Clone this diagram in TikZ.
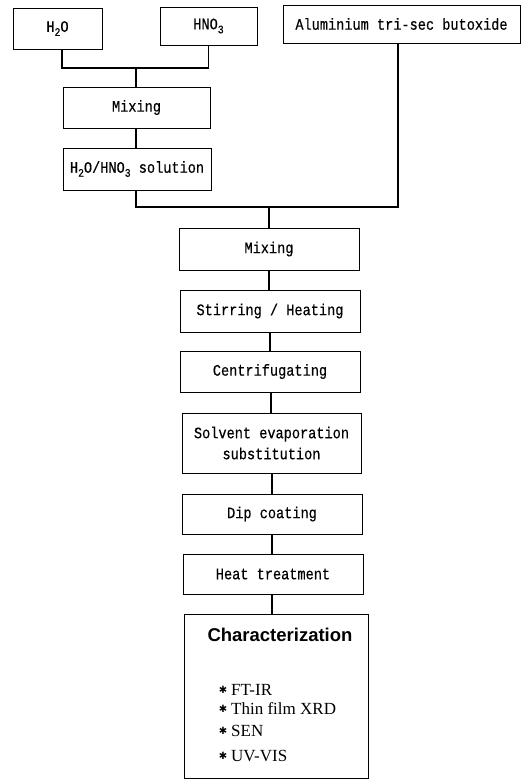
\documentclass[tikz,border=0pt]{standalone}
\usepackage{fontspec}
\newfontfamily\twfont{Liberation Mono}[FakeStretch=0.85,FakeBold=0.4]
\newfontfamily\hdfont{Liberation Sans}
\newfontfamily\srfont{Liberation Serif}
\newfontfamily\djvfont{DejaVu Sans}
\newcommand\mysub[1]{\raisebox{-0.25em}{\fontsize{11.5}{11.5}\selectfont #1}}
\begin{document}
\begin{tikzpicture}[x=1pt,y=-1pt,
  box/.style={draw,line width=0.9pt,inner sep=0pt,align=center,font=\twfont\fontsize{16}{21}\selectfont},
  conn/.style={line width=1.2pt},
  item/.style={anchor=west,inner sep=0pt,font=\srfont\fontsize{17}{19}\selectfont},
  bul/.style={inner sep=0pt,font=\djvfont\fontsize{10}{10}\selectfont}]
\useasboundingbox (0,0) rectangle (525,779);
% top inputs
\node[box,minimum width=89pt,minimum height=41pt] (h2o) at (57.5,28.5) {H\mysub{2}O};
\node[box,minimum width=97pt,minimum height=38pt] (hno3) at (208.5,26) {HNO\mysub{3}};
\node[box,minimum width=237pt,minimum height=38pt] (al) at (401.5,24) {Aluminium tri-sec butoxide};
\node[box,minimum width=147pt,minimum height=41pt] (mix1) at (136.5,107.5) {Mixing};
\node[box,minimum width=148pt,minimum height=42pt] (sol) at (137,169) {H\mysub{2}O/HNO\mysub{3} solution};
% main column
\node[box,minimum width=180pt,minimum height=42pt] (mix2) at (269,249) {Mixing};
\node[box,minimum width=180pt,minimum height=42pt] (stir) at (270,311) {Stirring / Heating};
\node[box,minimum width=180pt,minimum height=41pt] (cen) at (270,371.5) {Centrifugating};
\node[box,minimum width=179pt,minimum height=60pt] (solv) at (271.5,443) {Solvent evaporation\\ substitution};
\node[box,minimum width=180pt,minimum height=40pt] (dip) at (272,514) {Dip coating};
\node[box,minimum width=180pt,minimum height=40pt] (heat) at (273,574) {Heat treatment};
\node[box,minimum width=184pt,minimum height=164pt] (char) at (276,696) {};
\node[inner sep=0pt,font=\hdfont\bfseries\fontsize{18.5}{21}\selectfont] (ctitle) at (280,635) {Characterization};
\node[bul] (b1) at (223,690) {✱};
\node[item] (i1) at (231,690) {FT-IR};
\node[bul] (b2) at (223,709) {✱};
\node[item] (i2) at (231,709) {Thin film XRD};
\node[bul] (b3) at (223,731) {✱};
\node[item] (i3) at (231,731) {SEN};
\node[bul] (b4) at (223,756) {✱};
\node[item] (i4) at (231,756) {UV-VIS};
% connectors
\coordinate (j1) at (136,68);
\coordinate (j2) at (269,207);
\draw[conn] ([xshift=4.5pt]h2o.south) |- (j1) -| (hno3.south);
\draw[conn] (j1) -- (j1 |- mix1.north);
\draw[conn] (mix1.south -| j1) -- (j1 |- sol.north);
\draw[conn] (sol.south -| j1) |- (j2) -| ([xshift=-3.5pt]al.south);
\draw[conn] (j2) -- (j2 |- mix2.north);
\draw[conn] (mix2.south) -- (mix2.south |- stir.north);
\draw[conn] (stir.south) -- (stir.south |- cen.north);
\draw[conn] ([xshift=1pt]cen.south) -- ([xshift=1pt]cen.south |- solv.north);
\draw[conn] ([xshift=0.5pt]solv.south) -- ([xshift=0.5pt]solv.south |- dip.north);
\draw[conn] (dip.south) -- (dip.south |- heat.north);
\draw[conn] ([xshift=-1pt]heat.south) -- ([xshift=-1pt]heat.south |- char.north);
\end{tikzpicture}
\end{document}
